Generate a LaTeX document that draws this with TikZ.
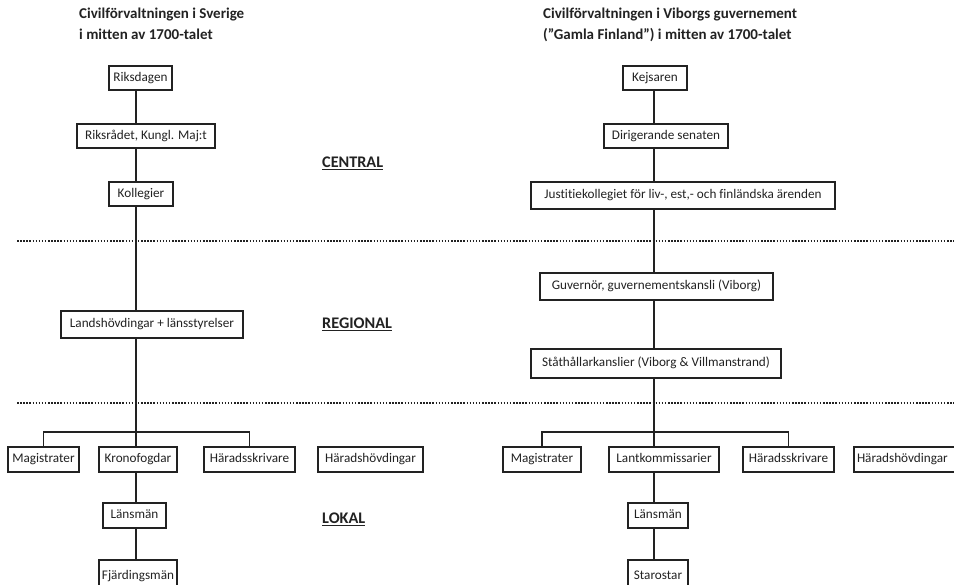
\documentclass[tikz,border=0pt]{standalone}
\usepackage{fontspec}
\setmainfont{Carlito}[Ligatures=NoCommon]
\definecolor{ink}{HTML}{222222}
\begin{document}
\begin{tikzpicture}[x=1pt,y=-1pt,
  box/.style={draw=ink, line width=1.8pt, inner sep=0pt, text=ink, text height=9.5pt, text depth=3pt, font=\fontsize{13.2}{15}\selectfont},
  conn/.style={draw=ink, line width=1.8pt},
  dotline/.style={draw=ink, line width=1.5pt, dash pattern=on 1.5pt off 1.6pt},
  ttl/.style={anchor=north west, align=left, text=ink, inner sep=0pt, font=\fontsize{15}{21}\selectfont\bfseries},
  lvl/.style={anchor=west, inner sep=0pt, text=ink, font=\fontsize{16.2}{18}\selectfont\bfseries}]
\clip (0,0) rectangle (954,585);
\fill[white] (0,0) rectangle (954,585);
% titles
\node[ttl] (tl) at (79,8) {Civilförvaltningen i Sverige\\i mitten av 1700-talet};
\node[ttl] (tr) at (543,8) {Civilförvaltningen i Viborgs guvernement\\(”Gamla Finland”) i mitten av 1700-talet};
% level labels
\node[lvl] (lc) at (322,163) {\underline{CENTRAL}};
\node[lvl] (lr) at (322,324) {\underline{REGIONAL}};
\node[lvl] (ll) at (322,519) {\underline{LOKAL}};
% dotted separators
\coordinate (d1a) at (17,241); \coordinate (d1b) at (954,241);
\coordinate (d2a) at (17,403); \coordinate (d2b) at (954,403);
\draw[dotline] (d1a) -- (d1b);
\draw[dotline] (d2a) -- (d2b);
% spines and buses
\coordinate (sL) at (136,0);
\coordinate (sR) at (654,0);
\coordinate (bL) at (136,432);
\coordinate (bR) at (654,432);
% left nodes
\node[box, minimum width=63pt, minimum height=24pt] (L1) at (140.5,78) {Riksdagen};
\node[box, minimum width=138pt, minimum height=24pt] (L2) at (146,136) {Riksrådet, Kungl. Maj:t};
\node[box, minimum width=64pt, minimum height=24pt] (L3) at (141,194) {Kollegier};
\node[box, minimum width=182pt, minimum height=27pt] (L4) at (152,324.5) {Landshövdingar + länsstyrelser};
\node[box, minimum width=71pt, minimum height=25pt] (L5) at (43.5,459.5) {Magistrater};
\node[box, minimum width=78pt, minimum height=25pt] (L6) at (138,459.5) {Kronofogdar};
\node[box, minimum width=91pt, minimum height=25pt] (L7) at (249.5,459.5) {Häradsskrivare};
\node[box, minimum width=105pt, minimum height=25pt] (L8) at (370.5,459.5) {Häradshövdingar};
\node[box, minimum width=63pt, minimum height=25pt] (L9) at (134.5,515.5) {Länsmän};
\node[box, minimum width=78pt, minimum height=32pt] (L10) at (138,576) {Fjärdingsmän};
% right nodes
\node[box, minimum width=64pt, minimum height=24pt] (R1) at (655,78) {Kejsaren};
\node[box, minimum width=124pt, minimum height=24pt] (R2) at (666,136) {Dirigerande senaten};
\node[box, minimum width=304pt, minimum height=27pt] (R3) at (683,195.5) {Justitiekollegiet för liv-, est,- och finländska ärenden};
\node[box, minimum width=233pt, minimum height=27pt] (R4) at (656.5,286.5) {Guvernör, guvernementskansli (Viborg)};
\node[box, minimum width=250pt, minimum height=29pt] (R5) at (656,363.5) {Ståthållarkanslier (Viborg \& Villmanstrand)};
\node[box, minimum width=78pt, minimum height=25pt] (R6) at (542,459.5) {Magistrater};
\node[box, minimum width=110pt, minimum height=25pt] (R7) at (664,459.5) {Lantkommissarier};
\node[box, minimum width=91pt, minimum height=25pt] (R8) at (788.5,459.5) {Häradsskrivare};
\node[box, minimum width=110pt, minimum height=25pt, text width=104pt, align=left] (R9) at (909,459.5) {Häradshövdingar};
\node[box, minimum width=60pt, minimum height=25pt] (R10) at (658,515.5) {Länsmän};
\node[box, minimum width=60pt, minimum height=32pt] (R11) at (658,576) {Starostar};
% left connectors
\draw[conn] (L1.south -| sL) -- (L2.north -| sL);
\draw[conn] (L2.south -| sL) -- (L3.north -| sL);
\draw[conn] (L3.south -| sL) -- (L4.north -| sL);
\draw[conn] (L4.south -| sL) -- (bL);
\draw[conn] (L5.north) -- (L5.north |- bL) -- (L7.north |- bL) -- (L7.north);
\draw[conn] (bL) -- (L6.north -| sL);
\draw[conn] (L6.south -| sL) -- (L9.north -| sL);
\draw[conn] (L9.south -| sL) -- (L10.north -| sL);
% right connectors
\draw[conn] (R1.south -| sR) -- (R2.north -| sR);
\draw[conn] (R2.south -| sR) -- (R3.north -| sR);
\draw[conn] (R3.south -| sR) -- (R4.north -| sR);
\draw[conn] (R4.south -| sR) -- (R5.north -| sR);
\draw[conn] (R5.south -| sR) -- (bR);
\draw[conn] (R6.north) -- (R6.north |- bR) -- (R8.north |- bR) -- (R8.north);
\draw[conn] (bR) -- (R7.north -| sR);
\draw[conn] (R7.south -| sR) -- (R10.north -| sR);
\draw[conn] (R10.south -| sR) -- (R11.north -| sR);
\end{tikzpicture}
\end{document}
